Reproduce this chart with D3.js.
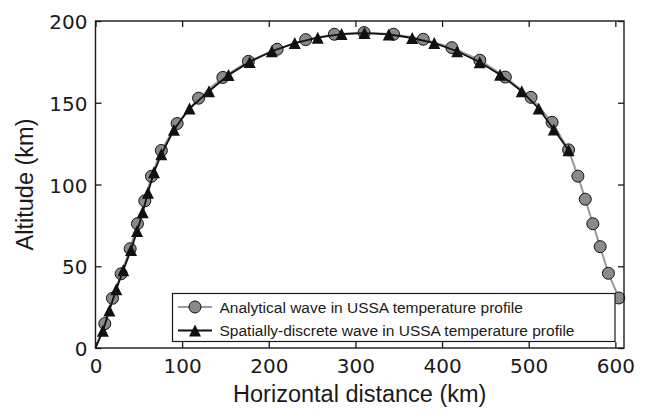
<!DOCTYPE html>
<html>
<head>
<meta charset="utf-8">
<script src="https://cdn.jsdelivr.net/npm/d3@7"></script>
<style>
  html, body { margin: 0; padding: 0; background: #fff; }
  svg { display: block; }
</style>
</head>
<body>
<svg id="chart"></svg>
<script>
// launch point shared by both waves (km)
var startX = 0, startY = 0;

// analytical wave (circles)
var analyticalX = [10.7, 19.6, 29.6, 40, 48.4, 56.9, 64.6, 76, 94.2, 119, 147, 176.5, 209.6, 242.6, 275.7, 310,
    344, 378.3, 411.3, 443.5, 473, 502.7, 527, 546, 556.8, 565.3, 574, 582.5, 592, 604];
var analyticalY = [14.9, 30.4, 45.4, 60.7, 76, 90, 105, 120.8, 137.3, 152.8, 165.5, 175.3, 182.7, 188.6, 191.9, 192.9,
    191.9, 188.8, 183.7, 176, 165.7, 153.3, 138, 121.2, 105.1, 91, 76, 62, 45.7, 30.6];

// spatially-discrete wave (triangles)
var discreteX = [8.5, 16, 24, 32, 41, 48, 54.5, 60.5, 67.5, 76, 90.5, 108.5, 131, 153.5, 178, 203.5, 230, 256.5,
    284, 310.5, 338.5, 365.5, 391, 417.5, 443.5, 467, 492, 511.5, 529, 546];
var discreteY = [10.5, 23, 36, 47.5, 60, 71.5, 83, 95, 107.5, 118.5, 133.5, 146.5, 157, 167, 175, 181.5, 186.5, 189.8,
    192, 192.6, 191.8, 189.6, 186.5, 181.5, 174.8, 167.2, 157, 146.5, 133.6, 121];

var xTicks = [0, 100, 200, 300, 400, 500, 600];
var yTicks = [0, 50, 100, 150, 200];
var seriesNames = ["Analytical wave in USSA temperature profile",
    "Spatially-discrete wave in USSA temperature profile"];

var width = 646, height = 412;
var margin = {left: 95.5, top: 21, right: 22, bottom: 64};

var svg = d3.select("#chart")
    .attr("width", width)
    .attr("height", height);

var x = d3.scaleLinear()
    .domain([0, 610])
    .range([margin.left, width - margin.right]);
var y = d3.scaleLinear()
    .domain([0, 200])
    .range([height - margin.bottom, margin.top]);

var tickFont = "'DejaVu Sans', sans-serif";
var labelFont = "'Liberation Sans', Arial, Helvetica, sans-serif";

var analytical = [[startX, startY]].concat(analyticalX.map(function(d, i) { return [d, analyticalY[i]]; }));
var discrete = [[startX, startY]].concat(discreteX.map(function(d, i) { return [d, discreteY[i]]; }));

var line = d3.line()
    .x(function(d) { return x(d[0]); })
    .y(function(d) { return y(d[1]); });

var tri = "M0,-6L6,6L-6,6Z";

// analytical wave first, so discrete sits on top
svg.append("path")
    .attr("d", line(analytical))
    .attr("fill", "none")
    .attr("stroke", "#999")
    .attr("stroke-width", 2);

svg.append("g").selectAll("circle")
    .data(analytical.slice(1))
  .enter().append("circle")
    .attr("cx", function(d) { return x(d[0]); })
    .attr("cy", function(d) { return y(d[1]); })
    .attr("r", 6)
    .attr("fill", "#8a8a8a")
    .attr("stroke", "#111")
    .attr("stroke-width", 1);

svg.append("path")
    .attr("d", line(discrete))
    .attr("fill", "none")
    .attr("stroke", "#111")
    .attr("stroke-width", 1.8);

svg.append("g").selectAll("path")
    .data(discrete.slice(1))
  .enter().append("path")
    .attr("d", tri)
    .attr("transform", function(d) { return "translate(" + x(d[0]) + "," + y(d[1]) + ")"; })
    .attr("fill", "#111");

// axes: ticks inward on all four sides
var tickLen = 6;
var xAxisB = svg.append("g")
    .attr("transform", "translate(0," + y(0) + ")")
    .call(d3.axisBottom(x).tickValues(xTicks).tickSizeInner(-tickLen).tickSizeOuter(0).tickPadding(10));
var xAxisT = svg.append("g")
    .attr("transform", "translate(0," + y(200) + ")")
    .call(d3.axisTop(x).tickValues(xTicks).tickSizeInner(-tickLen).tickSizeOuter(0).tickFormat(""));
var yAxisL = svg.append("g")
    .attr("transform", "translate(" + x(0) + ",0)")
    .call(d3.axisLeft(y).tickValues(yTicks).tickSizeInner(-tickLen).tickSizeOuter(0).tickPadding(8));
var yAxisR = svg.append("g")
    .attr("transform", "translate(" + x(610) + ",0)")
    .call(d3.axisRight(y).tickValues(yTicks).tickSizeInner(-tickLen).tickSizeOuter(0).tickFormat(""));

[xAxisB, xAxisT, yAxisL, yAxisR].forEach(function(g) {
    g.select(".domain").remove();
    g.selectAll(".tick line").attr("stroke", "#1a1a1a").attr("stroke-width", 1.3);
    g.selectAll("text")
        .attr("font-family", tickFont)
        .attr("font-size", 20)
        .attr("fill", "#1a1a1a");
});
xAxisB.selectAll("text").attr("dy", null).attr("y", 24.5);
yAxisL.selectAll("text").attr("dy", null).attr("y", 7.5);

// frame
svg.append("rect")
    .attr("x", x(0))
    .attr("y", y(200))
    .attr("width", x(610) - x(0))
    .attr("height", y(0) - y(200))
    .attr("fill", "none")
    .attr("stroke", "#1a1a1a")
    .attr("stroke-width", 1.4);

// axis labels
svg.append("text")
    .attr("x", (x(0) + x(610)) / 2)
    .attr("y", 402)
    .attr("text-anchor", "middle")
    .attr("font-family", labelFont)
    .attr("font-size", 23.5)
    .attr("fill", "#1a1a1a")
    .text("Horizontal distance (km)");

svg.append("text")
    .attr("transform", "translate(33," + ((y(0) + y(200)) / 2) + ") rotate(-90)")
    .attr("text-anchor", "middle")
    .attr("font-family", labelFont)
    .attr("font-size", 23.5)
    .attr("fill", "#1a1a1a")
    .text("Altitude (km)");

// legend
var legend = svg.append("g");
legend.append("rect")
    .attr("x", 172.5)
    .attr("y", 293.5)
    .attr("width", 615 - 172.5)
    .attr("height", 48)
    .attr("fill", "#fff")
    .attr("stroke", "#1a1a1a")
    .attr("stroke-width", 1.2);

var rows = legend.selectAll("g.row")
    .data(seriesNames)
  .enter().append("g")
    .attr("class", "row")
    .attr("transform", function(d, i) { return "translate(0," + (307 + i * 23.5) + ")"; });

rows.append("line")
    .attr("x1", 178).attr("x2", 212)
    .attr("stroke", function(d, i) { return i === 0 ? "#999" : "#111"; })
    .attr("stroke-width", function(d, i) { return i === 0 ? 2 : 1.8; });

rows.each(function(d, i) {
    var g = d3.select(this);
    if (i === 0) {
        g.append("circle").attr("cx", 195).attr("r", 6)
            .attr("fill", "#8a8a8a").attr("stroke", "#111").attr("stroke-width", 1);
    } else {
        g.append("path").attr("d", tri).attr("transform", "translate(195,0)").attr("fill", "#111");
    }
});

rows.append("text")
    .attr("x", 219.5)
    .attr("y", 5.5)
    .attr("font-family", labelFont)
    .attr("font-size", 15.5)
    .attr("fill", "#1a1a1a")
    .text(function(d) { return d; });
</script>
</body>
</html>
